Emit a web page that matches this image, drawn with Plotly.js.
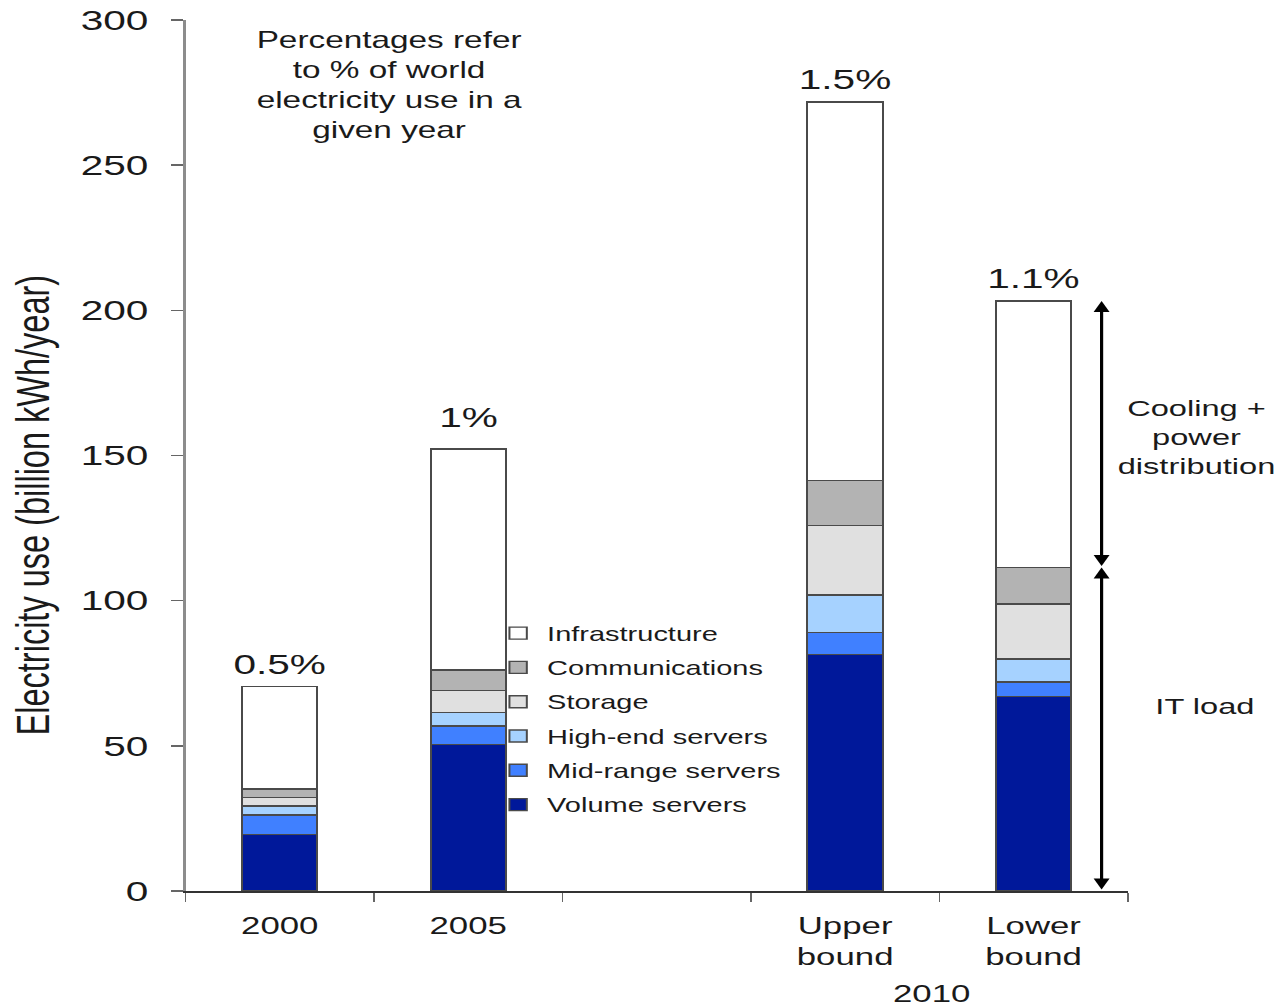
<!DOCTYPE html>
<html>
<head>
<meta charset="utf-8">
<script src="https://cdn.plot.ly/plotly-3.0.1.min.js"></script>
<style>
  html, body { margin: 0; padding: 0; background: #ffffff; overflow: hidden; }
  #wrap { width: 1280px; height: 1008px; overflow: hidden; }
  #chart { width: 883px; height: 1008px; transform: scaleX(1.4496); transform-origin: 0 0; }
</style>
</head>
<body>
<div id="wrap"><div id="chart"></div></div>
<script>
// ---- data (billion kWh/year) ----
const categories = ['2000', '2005', ' ', 'Upper<br>bound', 'Lower<br>bound'];
const volumeServers   = [19.5, 50.5, null, 81.5, 66.9];
const midRangeServers = [6.7, 6.4, null, 7.5, 5.1];
const highEndServers  = [3.1, 4.5, null, 13.0, 7.9];
const storage         = [3.0, 7.6, null, 23.8, 19.0];
const communications  = [2.8, 7.1, null, 15.5, 12.5];
const infrastructure  = [35.3, 76.2, null, 130.5, 91.8];
const pctLabels       = ['0.5%', '1%', '', '1.5%', '1.1%'];
const yTicks          = [0, 50, 100, 150, 200, 250, 300];

const FONT = '"Liberation Sans", Arial, Helvetica, sans-serif';
const TXT = '#1a1a1a';

const seriesDefs = [
  { name: 'Volume servers',     y: volumeServers,   color: '#00189a' },
  { name: 'Mid-range servers',  y: midRangeServers, color: '#4080ff' },
  { name: 'High-end servers',   y: highEndServers,  color: '#a6d2ff' },
  { name: 'Storage',            y: storage,         color: '#e0e0e0' },
  { name: 'Communications',     y: communications,  color: '#b3b3b3' },
  { name: 'Infrastructure',     y: infrastructure,  color: '#ffffff' }
];

const traces = seriesDefs.map((s, i) => ({
  type: 'bar',
  name: s.name,
  x: categories,
  y: s.y,
  width: 0.4,
  legendgroup: 'g' + i,
  legendrank: 100 - i,
  marker: { color: s.color, line: { color: '#4a4a4a', width: 1.4 } },
  hoverinfo: 'x+y+name'
}));

// totals and IT load computed from the series
const totals = categories.map((c, i) => seriesDefs.reduce((a, s) => a + (s.y[i] || 0), 0));
const itLoad = categories.map((c, i) => seriesDefs.slice(0, 5).reduce((a, s) => a + (s.y[i] || 0), 0));

const annotations = [];
categories.forEach((c, i) => {
  if (!pctLabels[i]) return;
  annotations.push({
    x: i, y: totals[i], xref: 'x', yref: 'y',
    text: pctLabels[i], showarrow: false,
    yanchor: 'bottom', yshift: (i === 1 ? 14 : 5),
    font: { family: FONT, size: 28, color: TXT }
  });
});

const lowerIdx = 4;
const arrowX = 4.361;
// Cooling + power distribution arrow
annotations.push({
  x: arrowX, y: totals[lowerIdx], ax: arrowX, ay: itLoad[lowerIdx],
  xref: 'x', yref: 'y', axref: 'x', ayref: 'y',
  text: '', showarrow: true, arrowside: 'end+start',
  arrowhead: 2, startarrowhead: 2, arrowsize: 1, startarrowsize: 1,
  arrowwidth: 2.2, arrowcolor: '#000'
});
// IT load arrow
annotations.push({
  x: arrowX, y: itLoad[lowerIdx], ax: arrowX, ay: 0,
  xref: 'x', yref: 'y', axref: 'x', ayref: 'y',
  text: '', showarrow: true, arrowside: 'end+start',
  arrowhead: 2, startarrowhead: 2, arrowsize: 1, startarrowsize: 1,
  arrowwidth: 2.2, arrowcolor: '#000'
});

annotations.push({
  x: 1.073, y: 0.52, xref: 'paper', yref: 'paper',
  text: 'Cooling +<br>power<br>distribution', showarrow: false,
  xanchor: 'center', yanchor: 'middle', align: 'center',
  font: { family: FONT, size: 22.5, color: TXT }
});
annotations.push({
  x: 1.0813, y: 0.2113, xref: 'paper', yref: 'paper',
  text: 'IT load', showarrow: false,
  xanchor: 'center', yanchor: 'middle',
  font: { family: FONT, size: 22.5, color: TXT }
});
annotations.push({
  x: 0.581, y: 0.925, xref: 'x', yref: 'paper',
  text: 'Percentages refer<br>to % of world<br>electricity use in a<br>given year', showarrow: false,
  xanchor: 'center', yanchor: 'middle', align: 'center',
  font: { family: FONT, size: 23, color: TXT }
});
annotations.push({
  x: 3.46, y: -0.118, xref: 'x', yref: 'paper',
  text: '2010', showarrow: false,
  xanchor: 'center', yanchor: 'middle',
  font: { family: FONT, size: 24, color: TXT }
});
annotations.push({
  x: -0.162, y: 0.4435, xref: 'paper', yref: 'paper',
  text: 'Electricity use (billion kWh/year)', showarrow: false,
  textangle: -90, xanchor: 'center', yanchor: 'middle',
  font: { family: FONT, size: 32.5, color: TXT }
});

const layout = {
  width: 883, height: 1008,
  margin: { l: 127.6, r: 105.4, t: 20, b: 117, pad: 0 },
  paper_bgcolor: '#ffffff', plot_bgcolor: '#ffffff',
  barmode: 'stack',
  showlegend: true,
  legend: {
    x: 0.3222, y: 0.3185, xanchor: 'left', yanchor: 'top',
    traceorder: 'grouped', tracegroupgap: 5.3,
    bgcolor: 'rgba(0,0,0,0)',
    font: { family: FONT, size: 20, color: TXT }
  },
  xaxis: {
    type: 'category',
    categoryorder: 'array', categoryarray: categories,
    range: [-0.5, 4.5],
    tickson: 'boundaries',
    ticks: 'outside', ticklen: 9, tickwidth: 1, tickcolor: '#666',
    showline: true, linecolor: '#333', linewidth: 1.5,
    showgrid: false, zeroline: false,
    ticklabelstandoff: 13,
    tickfont: { family: FONT, size: 24, color: TXT },
    fixedrange: true
  },
  yaxis: {
    range: [0, 300],
    tickmode: 'array', tickvals: yTicks,
    ticks: 'outside', ticklen: 8, tickwidth: 1.5, tickcolor: '#666',
    showline: true, linecolor: '#8c8c8c', linewidth: 2,
    showgrid: false, zeroline: false,
    ticklabelstandoff: 10,
    tickfont: { family: FONT, size: 28, color: TXT },
    fixedrange: true
  },
  annotations: annotations
};

Plotly.newPlot('chart', traces, layout, { displayModeBar: false, staticPlot: true });
</script>
</body>
</html>
